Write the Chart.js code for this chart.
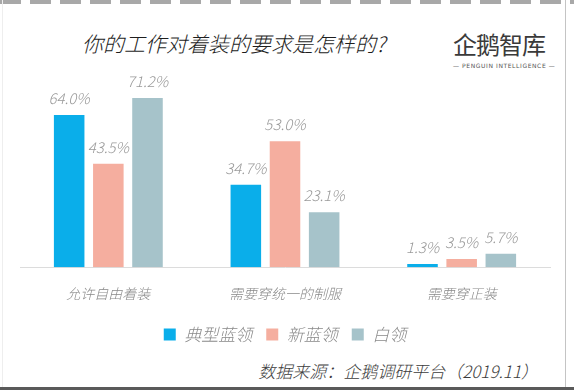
<!DOCTYPE html>
<html>
<head>
<meta charset="utf-8">
<script src="https://cdn.jsdelivr.net/npm/chart.js@4/dist/chart.umd.min.js"></script>
<style>
  html, body { margin: 0; padding: 0; background: #fff; }
  body { width: 574px; height: 390px; position: relative; overflow: hidden;
         font-family: "Noto Sans CJK SC", "Noto Sans", sans-serif; }
  .topband { position: absolute; left: 0; top: 0; width: 574px; height: 4px;
             background: repeating-linear-gradient(90deg, #a8a8a8 0 21px, #fff 21px 30px); }
  .rline { position: absolute; left: 565px; top: 0; width: 1px; height: 390px; background: #c4c4c4; }
  .lline { position: absolute; left: 2px; top: 0; width: 1px; height: 390px; background: #eee; }
  .bline { position: absolute; left: 0; top: 387px; width: 574px; height: 3px; background: #5a5a5a; }
  .title { position: absolute; left: 82px; top: 28px; font-size: 21px; font-style: italic;
           font-weight: 300; color: #1e1e1e; }
  .logo { position: absolute; left: 453px; top: 26px; font-size: 24px; font-weight: 400;
          color: #3a3a3a; letter-spacing: -1px; }
  .logo2 { position: absolute; left: 453px; top: 62px; font-size: 6px; color: #555;
           letter-spacing: 0.6px; font-family: "DejaVu Sans", sans-serif; white-space: nowrap; }
  .source { position: absolute; right: 36px; top: 358px; font-size: 17px; font-style: italic;
            font-weight: 300; color: #3c3c3c; }
  #box { position: absolute; left: 0; top: 0; width: 574px; height: 390px; }
</style>
</head>
<body>
<div class="topband"></div>
<div class="lline"></div>
<div class="rline"></div>
<div class="bline"></div>
<div class="title">你的工作对着装的要求是怎样的?</div>
<div class="logo">企鹅智库</div>
<div class="logo2">— PENGUIN INTELLIGENCE —</div>
<div class="source">数据来源：企鹅调研平台（2019.11）</div>
<div id="box"><canvas id="c"></canvas></div>
<script>
// 分类与数据
const categories = ['允许自由着装', '需要穿统一的制服', '需要穿正装'];
const typicalBlue = [64.0, 34.7, 1.3];
const newBlue = [43.5, 53.0, 3.5];
const whiteCollar = [71.2, 23.1, 5.7];
const seriesNames = ['典型蓝领', '新蓝领', '白领'];
const colors = ['#0aaeea', '#f5ae9f', '#a6c3ca'];

const cjk = '"Noto Sans CJK SC", sans-serif';

// 柱子上方的数值
const valueLabels = {
  id: 'valueLabels',
  afterDatasetsDraw(chart) {
    const ctx = chart.ctx;
    ctx.save();
    ctx.font = 'italic 300 15px ' + cjk;
    ctx.fillStyle = '#9a9a9a';
    ctx.textAlign = 'center';
    ctx.textBaseline = 'bottom';
    chart.data.datasets.forEach((ds, i) => {
      chart.getDatasetMeta(i).data.forEach((bar, j) => {
        ctx.fillText(ds.data[j].toFixed(1) + '%', bar.x, bar.y - 9);
      });
    });
    ctx.restore();
  }
};

new Chart(document.getElementById('c'), {
  type: 'bar',
  data: {
    labels: categories,
    datasets: [typicalBlue, newBlue, whiteCollar].map((d, i) => ({
      label: seriesNames[i],
      data: d,
      backgroundColor: colors[i],
      categoryPercentage: 0.665,
      barPercentage: 0.78,
    })),
  },
  options: {
    responsive: true,
    maintainAspectRatio: false,
    animation: false,
    layout: { padding: { left: 20, right: 24, top: 77, bottom: 37 } },
    plugins: {
      tooltip: { enabled: false },
      legend: {
        position: 'bottom',
        labels: {
          boxWidth: 12, boxHeight: 12, padding: 14,
          color: '#8a8a8a',
          font: { size: 17, style: 'italic', weight: 300, family: cjk },
        }
      }
    },
    scales: {
      x: {
        grid: { display: false },
        border: { color: '#dcdcdc' },
        ticks: {
          color: '#8a8a8a', padding: 10,
          font: { size: 14, style: 'italic', weight: 300, family: cjk },
        }
      },
      y: { display: false, min: 0, max: 80 }
    }
  },
  plugins: [valueLabels]
});
</script>
</body>
</html>
